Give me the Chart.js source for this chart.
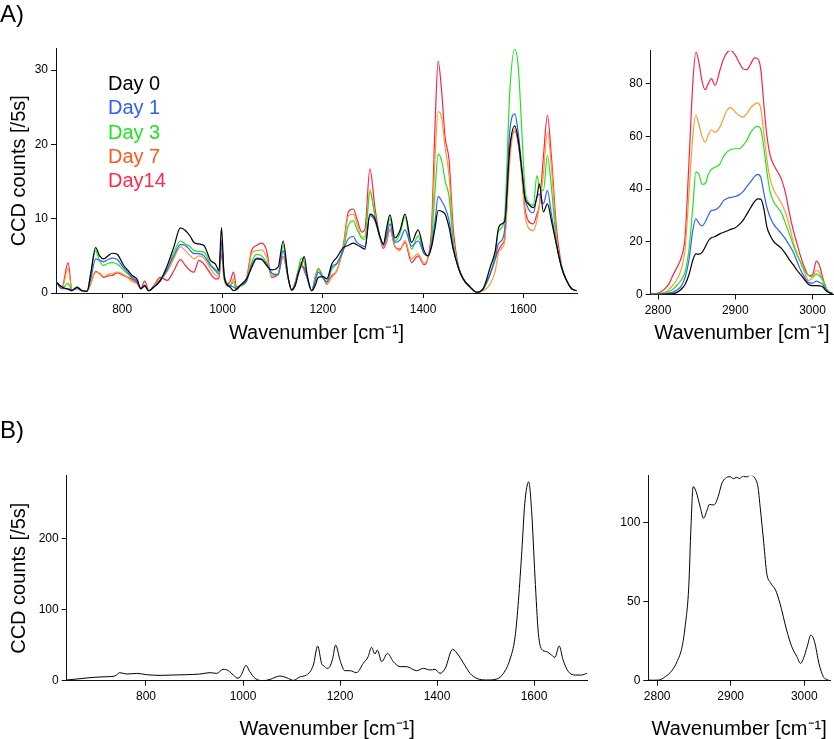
<!DOCTYPE html>
<html>
<head>
<meta charset="utf-8">
<script src="https://cdn.jsdelivr.net/npm/chart.js"></script>
<style>
  html, body { margin: 0; padding: 0; background: #fff; overflow: hidden; }
  canvas { position: absolute; }
</style>
</head>
<body>
<canvas id="graficoA1" width="590" height="345" style="left:0px;top:0px"></canvas>
<canvas id="graficoA2" width="234" height="345" style="left:600px;top:0px"></canvas>
<canvas id="graficoB1" width="600" height="341" style="left:0px;top:400px"></canvas>
<canvas id="graficoB2" width="234" height="341" style="left:600px;top:400px"></canvas>
<script>
const nomes = ['Day 0', 'Day 1', 'Day 3', 'Day 7', 'Day14'];
const coresLinha = ['#000000', '#2f5fff', '#1ee61e', '#ff9a30', '#ff2244'];
const coresTexto = ['#000000', '#2f5fff', '#1ee61e', '#ff5a1a', '#ff2a4a'];

// ticks de cada eixo
const ticksFinger = [800, 1000, 1200, 1400, 1600];
const ticksCH = [2800, 2900, 3000];
const ticksYA = [0, 10, 20, 30];
const ticksYA2 = [0, 20, 40, 60, 80];
const ticksYB = [0, 100, 200];
const ticksYB2 = [0, 50, 100];

// painel A, fingerprint
const wnA = [668, 680, 692, 700, 710, 720, 730, 737, 747, 755,
  763, 772, 780, 790, 803, 812, 820, 830, 837, 845,
  853, 863, 876, 890, 903, 916, 926, 936, 943, 953,
  963, 976, 986, 993, 998, 1003, 1008, 1015, 1022, 1028,
  1035, 1048, 1058, 1068, 1078, 1088, 1098, 1111, 1121, 1131,
  1138, 1145, 1151, 1157, 1163, 1169, 1178, 1185, 1191, 1201,
  1208, 1218, 1228, 1241, 1251, 1261, 1268, 1278, 1284, 1294,
  1304, 1314, 1321, 1327, 1334, 1344, 1354, 1364, 1377, 1390,
  1402, 1410, 1417, 1424, 1430, 1437, 1444, 1452, 1460, 1470,
  1480, 1494, 1507, 1520, 1534, 1544, 1550, 1557, 1563, 1573,
  1583, 1590, 1597, 1603, 1610, 1620, 1627, 1632, 1640, 1648,
  1656, 1666, 1676, 1686, 1696, 1706];
const a_day0 = [1.5, 0.8, 0.5, 0.3, 0.8, 0.3, 0.2, 2.5, 6.1, 5.0,
  4.6, 5.0, 5.35, 5.2, 3.7, 3.0, 2.35, 1.8, 0.6, 1.0,
  0.3, 0.8, 1.7, 3.7, 6.2, 8.75, 8.4, 7.6, 6.8, 6.6,
  6.4, 4.4, 3.9, 3.0, 8.8, 2.6, 1.2, 0.8, 0.3, 0.5,
  1.0, 1.9, 3.4, 4.6, 4.5, 3.7, 3.1, 3.5, 7.0, 2.1,
  0.4, 1.0, 2.6, 3.8, 4.9, 2.4, 0.3, 1.0, 2.1, 2.2,
  1.9, 3.9, 4.8, 6.1, 6.4, 6.7, 6.5, 6.1, 5.9, 10.6,
  10.0, 7.6, 6.6, 8.6, 10.5, 7.4, 8.4, 10.6, 6.8, 8.5,
  5.7, 5.0, 6.2, 8.8, 11.1, 11.0, 10.6, 8.8, 5.9, 3.5,
  1.9, 0.8, 0.1, 0.6, 3.5, 5.7, 8.6, 9.3, 9.7, 19.6,
  22.5, 20.5, 16.5, 12.9, 12.0, 11.5, 12.9, 14.7, 10.9, 12.0,
  9.7, 6.5, 3.5, 1.7, 0.6, 0.3];
const a_day1 = [1.5, 0.6, 0.6, 0.4, 0.7, 0.3, 0.3, 1.8, 4.6, 4.4,
  4.2, 4.5, 4.7, 4.5, 3.4, 2.7, 2.1, 1.5, 0.6, 0.9,
  0.3, 0.8, 1.6, 3.25, 5.0, 6.5, 6.4, 5.7, 5.3, 5.3,
  5.0, 3.7, 3.0, 2.5, 7.0, 2.6, 1.4, 1.0, 0.8, 0.6,
  1.0, 1.6, 3.7, 4.7, 4.6, 3.9, 2.7, 2.4, 5.7, 2.0,
  0.4, 1.0, 2.4, 3.5, 3.4, 2.0, 0.3, 1.6, 2.8, 2.0,
  1.5, 3.5, 4.0, 5.8, 7.3, 7.6, 6.8, 6.4, 6.2, 10.4,
  9.7, 7.5, 6.4, 7.5, 9.3, 6.8, 7.1, 8.5, 6.3, 7.0,
  5.3, 5.0, 6.6, 9.7, 13.0, 12.4, 11.5, 9.7, 6.2, 3.5,
  1.9, 0.8, 0.1, 0.6, 2.6, 4.6, 6.6, 7.1, 8.8, 21.8,
  24.1, 21.4, 16.9, 12.9, 11.3, 10.8, 12.9, 13.3, 12.0, 13.8,
  10.6, 6.5, 3.5, 1.7, 0.6, 0.3];
const a_day3 = [1.5, 0.6, 1.3, 0.4, 0.8, 0.3, 0.3, 2.5, 5.7, 4.3,
  3.7, 4.0, 4.1, 3.9, 3.1, 2.5, 2.0, 1.5, 0.6, 1.0,
  0.3, 0.8, 1.7, 3.1, 5.5, 7.0, 6.6, 6.2, 5.7, 5.6,
  5.5, 3.9, 3.2, 2.8, 7.0, 2.6, 1.2, 0.9, 1.5, 0.4,
  0.9, 1.6, 4.1, 5.2, 5.0, 4.1, 2.6, 2.5, 6.4, 2.0,
  0.4, 1.2, 3.0, 4.7, 4.1, 2.2, 0.3, 1.8, 3.2, 2.1,
  1.4, 3.2, 3.9, 5.7, 9.1, 9.7, 8.6, 7.4, 7.2, 13.6,
  10.5, 7.6, 6.5, 8.0, 10.0, 7.0, 8.0, 10.2, 5.9, 7.7,
  5.3, 5.0, 7.1, 13.8, 18.7, 17.8, 15.1, 12.9, 7.0, 3.5,
  1.9, 0.8, 0.1, 0.6, 2.6, 5.3, 8.2, 8.8, 10.6, 27.2,
  32.8, 30.3, 21.8, 14.2, 12.2, 11.8, 15.8, 14.3, 13.8, 18.5,
  14.2, 6.8, 3.5, 1.7, 0.6, 0.3];
const a_day7 = [1.5, 0.6, 3.3, 0.4, 0.7, 0.3, 0.3, 1.2, 2.8, 2.7,
  2.2, 2.5, 2.6, 2.8, 2.5, 2.0, 1.5, 1.2, 0.5, 1.1,
  0.3, 0.9, 1.9, 2.9, 4.6, 6.2, 5.7, 5.0, 4.6, 5.0,
  4.7, 3.25, 2.4, 2.2, 6.0, 2.2, 1.0, 1.0, 1.9, 0.5,
  0.9, 1.6, 5.3, 5.7, 5.8, 4.8, 2.35, 2.5, 4.9, 2.0,
  0.4, 1.1, 2.8, 4.0, 3.3, 2.0, 0.3, 2.0, 3.2, 2.0,
  1.2, 2.1, 3.0, 6.0, 10.4, 10.6, 9.3, 7.5, 7.6, 13.9,
  10.3, 7.4, 6.2, 7.0, 8.6, 6.3, 5.7, 7.1, 4.6, 5.3,
  4.0, 4.8, 7.5, 18.3, 24.4, 23.6, 19.6, 15.6, 7.5, 3.6,
  1.9, 0.8, 0.1, 0.3, 1.2, 3.0, 5.3, 6.0, 7.1, 17.8,
  22.1, 20.5, 15.6, 10.6, 8.8, 8.4, 9.7, 11.8, 16.0, 21.6,
  16.9, 7.5, 3.6, 1.7, 0.6, 0.3];
const a_day14 = [1.5, 0.8, 4.1, 0.4, 0.6, 0.3, 0.3, 1.2, 2.9, 2.6,
  2.1, 2.3, 2.35, 2.7, 2.35, 2.1, 1.8, 1.3, 0.6, 1.6,
  0.3, 1.0, 2.1, 1.7, 3.0, 4.5, 3.7, 3.0, 2.8, 4.4,
  3.9, 2.6, 1.9, 2.0, 5.3, 2.0, 1.2, 1.5, 2.8, 0.8,
  1.0, 2.0, 5.7, 6.4, 6.7, 5.7, 2.1, 2.6, 4.9, 2.0,
  0.4, 1.5, 3.0, 4.1, 3.0, 2.0, 0.3, 2.2, 3.3, 2.1,
  1.2, 2.35, 3.0, 6.4, 10.9, 11.3, 10.0, 8.2, 8.6, 16.7,
  11.5, 7.5, 6.0, 6.8, 8.6, 6.2, 5.9, 6.8, 4.1, 5.0,
  3.8, 4.8, 8.8, 22.7, 31.2, 27.2, 20.9, 17.8, 8.8, 3.8,
  1.9, 0.8, 0.1, 0.5, 2.6, 4.6, 5.7, 6.5, 7.5, 19.2,
  21.8, 20.0, 16.0, 11.5, 9.7, 9.3, 10.6, 11.8, 18.3, 23.9,
  18.3, 8.8, 3.8, 1.7, 0.6, 0.3];

// painel A, regiao CH
const wnA2 = [2790, 2800, 2810, 2815, 2820, 2825, 2830, 2835, 2840, 2845,
  2849, 2853, 2857, 2861, 2865, 2869, 2874, 2880, 2885, 2890,
  2894, 2900, 2905, 2910, 2915, 2920, 2925, 2929, 2933, 2937,
  2941, 2945, 2950, 2955, 2960, 2965, 2970, 2975, 2980, 2985,
  2990, 2995, 3000, 3005, 3009, 3013, 3018, 3022, 3026];
const ch_day0 = [0.1, 0.1, 0.1, 0.2, 0.3, 0.9, 2, 3.8, 7.5, 13,
  15.4, 15.3, 16, 18, 20.3, 21.5, 22, 23, 23.6, 24.2,
  24.7, 25.3, 26.5, 28.1, 30.5, 33, 35.3, 36.3, 36.2, 32.5,
  25.6, 22.5, 20, 18.7, 17.4, 15.5, 13.2, 11.3, 9.2, 7.4,
  5.5, 3.8, 3.4, 3.4, 3.3, 2.9, 1.3, 0.6, 0.3];
const ch_day1 = [0.1, 0.1, 0.3, 0.6, 1.0, 1.8, 3.2, 6.5, 13, 24.3,
  28.7, 27, 26, 27.5, 30, 31.9, 32.1, 33.5, 35.7, 36.5,
  36.8, 37.2, 37.8, 39, 41, 42.8, 44.8, 45.6, 44.5, 38.5,
  33, 29.4, 26.5, 24.7, 23, 21, 18.7, 16.1, 12.5, 9,
  6.5, 4.5, 4.3, 5.1, 4.6, 3.9, 1.5, 0.7, 0.3];
const ch_day3 = [0.1, 0.2, 0.6, 1.3, 2.2, 3.7, 5.5, 8.5, 17, 33,
  46.5, 45.5, 41.8, 42, 45.5, 47.5, 48.3, 49.5, 52.5, 54.2,
  55, 55.3, 55.3, 56.5, 58.5, 61.5, 63.3, 63.8, 62.8, 55.5,
  46.5, 39, 35, 33, 30.8, 27, 23, 18.8, 15, 12,
  8.8, 7.2, 6.6, 7.8, 7.0, 5.6, 2.2, 0.9, 0.3];
const ch_day7 = [0.2, 0.3, 1.0, 2.2, 3.8, 6, 9.5, 17, 38, 60,
  68, 64.5, 60, 57.8, 60.5, 62.5, 61.5, 63.5, 67, 70.2,
  70.9, 69.2, 68, 67.3, 68.7, 70.8, 72.2, 72.7, 70.5, 61,
  51, 44, 39.5, 37, 34.5, 31, 26, 20, 15.5, 11.7,
  8.2, 5.3, 6.5, 9.1, 8.3, 5.5, 2.2, 0.9, 0.3];
const ch_day14 = [0.2, 0.5, 2.5, 4.5, 7.8, 10.5, 14, 21.8, 50, 80,
  92, 88, 81, 77.7, 80, 81.9, 79.4, 85, 89.5, 92,
  92.6, 90.8, 88, 85.7, 85.3, 87.5, 89.8, 89.5, 85.5, 72,
  60, 53, 49, 46.5, 43.5, 38.5, 31, 24.5, 19.2, 14,
  10, 7.2, 7.5, 12.7, 11, 6.6, 2.2, 1.0, 0.3];

// painel B
const wnB = [636, 664, 691, 719, 736, 746, 760, 781, 801, 829,
  856, 884, 911, 932, 946, 959, 970, 980, 990, 997,
  1006, 1014, 1025, 1042, 1056, 1076, 1090, 1104, 1118, 1131,
  1145, 1154, 1162, 1168, 1173, 1179, 1185, 1191, 1200, 1210,
  1221, 1234, 1248, 1258, 1265, 1272, 1277, 1286, 1298, 1310,
  1324, 1337, 1358, 1372, 1386, 1396, 1406, 1417, 1432, 1444,
  1454, 1468, 1482, 1502, 1523, 1537, 1550, 1561, 1568, 1575,
  1581, 1589, 1595, 1602, 1609, 1616, 1626, 1636, 1643, 1652,
  1660, 1671, 1685, 1698, 1709];
const b_counts = [1, 2.8, 4.7, 5.6, 6.6, 11.3, 9.4, 10.3, 8.5, 7.5,
  8, 8.5, 9.4, 11.3, 10.3, 16, 14.1, 8, 3.3, 8.9,
  21.6, 12.7, 3.3, 0, 1.9, 6.6, 4.2, 0.5, 5.6, 8,
  22, 48.8, 24.4, 20, 17.4, 19.8, 31.5, 50.3, 29.1, 14.1,
  14.1, 11.3, 24.5, 33.9, 47, 37.6, 43.2, 26.8, 38.5, 26.8,
  19.8, 19.8, 14.1, 17.4, 15.1, 16, 10.4, 17.4, 44.2, 36.2,
  25.4, 10.4, 3.3, 1, 2.3, 10.4, 29.1, 62, 113.6, 184,
  250, 280.3, 240, 146.5, 66.7, 44.2, 40.9, 36.2, 32.9, 48.9,
  29.1, 12.7, 8, 8, 10.4];

const wnB2 = [2788, 2795, 2802, 2811, 2820, 2827, 2834, 2838, 2843, 2846,
  2849, 2853, 2859, 2863, 2868, 2871, 2877, 2883, 2888, 2893,
  2899, 2904, 2908, 2912, 2917, 2922, 2927, 2930, 2933, 2937,
  2940, 2945, 2949, 2954, 2961, 2967, 2976, 2983, 2990, 2995,
  2999, 3004, 3009, 3014, 3020, 3026, 3033];
const b2_counts = [0.4, 0.3, 0.4, 2.5, 6.3, 12, 21.5, 34, 59.3, 97,
  122.5, 119.3, 108.8, 102.5, 107.8, 111.3, 110.9, 116.2, 124.6, 127.8,
  128.8, 127.5, 128.4, 127.6, 129.2, 128.6, 129.9, 129.3, 127.8, 122.5,
  109.9, 86.7, 67.8, 61.9, 57.2, 48.8, 32, 21.5, 15.2, 10.9,
  14.1, 21.5, 28.8, 24.6, 10.9, 2.5, 0.4];

const fonte = 'Liberation Sans, Arial, Helvetica, sans-serif';
const tituloX = 'Wavenumber [cm\u207B\u00B9]';
const tituloY = 'CCD counts [/5s]';

const pontos = (xs, ys) => xs.map((x, i) => ({ x: x, y: ys[i] }));

// escreve textos soltos (rotulo do painel e legenda)
const textosPlugin = {
  id: 'textos',
  afterDraw(chart, args, opts) {
    const ctx = chart.ctx;
    ctx.save();
    ctx.textBaseline = 'alphabetic';
    ctx.textAlign = 'left';
    (opts.lista || []).forEach(function (t) {
      ctx.font = t.tamanho + 'px ' + fonte;
      ctx.fillStyle = t.cor;
      ctx.fillText(t.texto, t.x, t.y);
    });
    ctx.restore();
  }
};

function geraGrafico(id, c) {
  const eixo = '#111';
  return new Chart(document.getElementById(id), {
    type: 'line',
    data: { datasets: c.datasets },
    options: {
      responsive: false,
      animation: false,
      devicePixelRatio: 1,
      layout: { padding: c.padding },
      elements: {
        point: { radius: 0 },
        line: { borderWidth: c.espessura, cubicInterpolationMode: 'monotone' }
      },
      plugins: {
        legend: { display: false },
        tooltip: { enabled: false },
        textos: { lista: c.textos || [] }
      },
      scales: {
        x: {
          type: 'linear',
          min: c.xmin, max: c.xmax,
          afterFit: function (s) { s.height = c.alturaX; },
          afterBuildTicks: function (s) { s.ticks = c.xticks.map(v => ({ value: v })); },
          border: { display: true, color: eixo, width: 1 },
          grid: { drawOnChartArea: false, drawTicks: true, tickLength: 5, color: eixo, tickColor: eixo },
          ticks: {
            autoSkip: false, maxRotation: 0,
            padding: 4, color: '#000', font: { family: fonte, size: 12 },
            callback: function (v) { return String(v); }
          },
          title: { display: true, text: tituloX, color: '#000', font: { family: fonte, size: 20 }, padding: { top: 0, bottom: 0 } }
        },
        y: {
          type: 'linear',
          min: 0, max: c.ymax,
          afterFit: function (s) { s.width = c.larguraY; },
          afterBuildTicks: function (s) { s.ticks = c.yticks.map(v => ({ value: v })); },
          border: { display: true, color: eixo, width: 1 },
          grid: { drawOnChartArea: false, drawTicks: true, tickLength: 5, color: eixo, tickColor: eixo },
          ticks: {
            autoSkip: false, padding: 3, color: '#000',
            font: { family: fonte, size: 12 },
            callback: function (v) { return String(v); }
          },
          title: { display: !!c.comTituloY, text: tituloY, color: '#000', font: { family: fonte, size: 20 }, padding: { top: 7.5, bottom: 0 } }
        }
      }
    },
    plugins: [textosPlugin]
  });
}

const seriesA = [a_day0, a_day1, a_day3, a_day7, a_day14];
const seriesA2 = [ch_day0, ch_day1, ch_day3, ch_day7, ch_day14];

const legenda = nomes.map(function (n, i) {
  return { texto: n, x: 108, y: 90 + i * 24.3, tamanho: 20, cor: coresTexto[i] };
});
legenda.push({ texto: 'A)', x: 0, y: 21.5, tamanho: 24, cor: '#000' });

geraGrafico('graficoA1', {
  datasets: seriesA.map(function (s, i) {
    return { label: nomes[i], data: pontos(wnA, s), borderColor: coresLinha[i], fill: false };
  }),
  padding: { top: 48.5, left: 0, right: 13, bottom: 0 },
  espessura: 1.2,
  xmin: 668, xmax: 1707, xticks: ticksFinger,
  ymax: 32.9, yticks: ticksYA,
  alturaX: 52, larguraY: 56, comTituloY: true,
  textos: legenda
});

geraGrafico('graficoA2', {
  datasets: seriesA2.map(function (s, i) {
    return { label: nomes[i], data: pontos(wnA2, s), borderColor: coresLinha[i], fill: false };
  }),
  padding: { top: 50.7, left: 0, right: 1, bottom: 0 },
  espessura: 1.2,
  xmin: 2790.5, xmax: 3026.5, xticks: ticksCH,
  ymax: 92.5, yticks: ticksYA2,
  alturaX: 50.5, larguraY: 50.7
});

geraGrafico('graficoB1', {
  datasets: [{ label: 'B', data: pontos(wnB, b_counts), borderColor: '#000', fill: false }],
  padding: { top: 75.7, left: 0, right: 12.3, bottom: 0 },
  espessura: 1,
  xmin: 636.5, xmax: 1710.7, xticks: ticksFinger,
  ymax: 289, yticks: ticksYB,
  alturaX: 60.3, larguraY: 66.7, comTituloY: true,
  textos: [{ texto: 'B)', x: 0, y: 38, tamanho: 24, cor: '#000' }]
});

geraGrafico('graficoB2', {
  datasets: [{ label: 'B', data: pontos(wnB2, b2_counts), borderColor: '#000', fill: false }],
  padding: { top: 75.7, left: 0, right: 4, bottom: 0 },
  espessura: 1,
  xmin: 2788, xmax: 3035, xticks: ticksCH,
  ymax: 129.4, yticks: ticksYB2,
  alturaX: 60.3, larguraY: 48.3
});
</script>
</body>
</html>
